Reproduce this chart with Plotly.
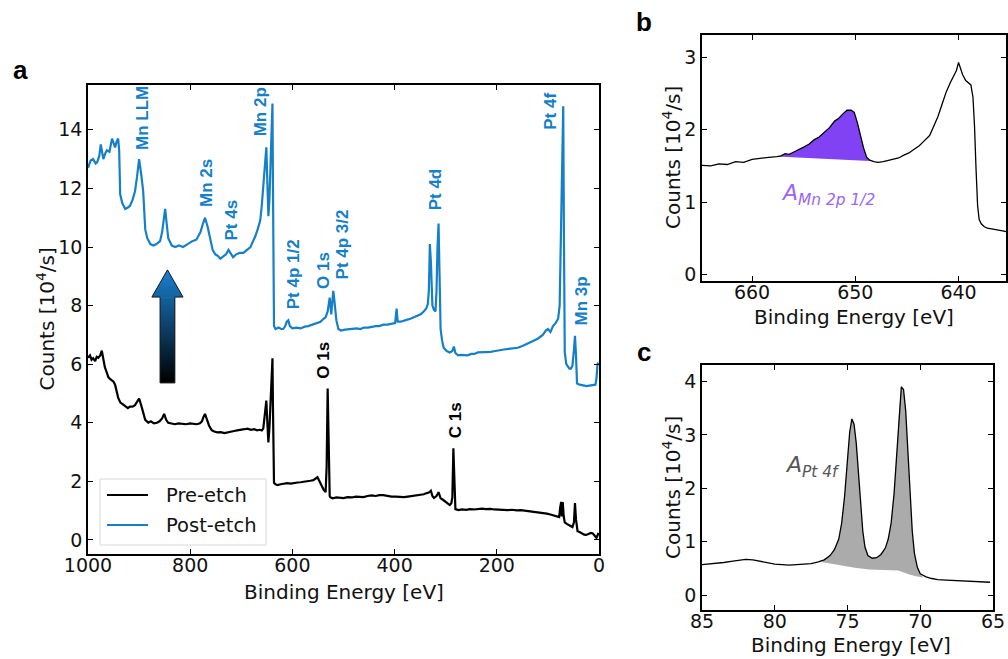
import plotly.graph_objects as go

W, H = 1008, 659
BLUE = "#1580c8"

# ---------------- Panel a : survey spectra ----------------
post_x = [1000, 995, 990, 985, 982, 978, 975, 972, 970, 966, 963, 958, 953, 950, 947, 944, 941, 939, 937, 933,
          927, 922, 918, 913, 908, 904, 900, 896, 892, 888, 884, 878, 872, 866, 859, 855, 852, 849, 846, 843,
          836, 829, 822, 814, 805, 796, 788, 780, 775, 771, 766, 761, 756, 751, 746, 741, 735, 730, 725, 720,
          716, 710, 703, 696, 689, 682, 677, 673, 668, 663, 660, 657, 654, 651, 649, 647, 645, 642, 639, 638,
          637, 636, 633, 627, 622, 618, 614, 611, 608, 605, 600, 592, 584, 576, 569, 560, 551, 545, 539, 535,
          531, 529, 527, 525, 524, 522, 520, 518, 514, 510, 505, 497, 489, 481, 474, 467, 460, 452, 444, 437,
          430, 422, 414, 406, 399, 396, 394, 388, 381, 375, 369, 362, 355, 349, 343, 338, 335, 333, 331, 329,
          326, 323, 320, 318, 316, 314, 312, 310, 307, 304, 298, 292, 287, 284, 281, 276, 270, 263, 257, 250,
          244, 237, 230, 221, 212, 203, 195, 186, 177, 168, 159, 150, 139, 130, 120, 110, 104, 100, 95, 90,
          85, 80, 77, 76, 75, 73, 71.5, 70, 68.5, 67, 64, 61, 58, 55, 52, 49, 47, 45, 43, 38,
          33, 29, 24, 19, 14, 10, 7, 5, 3, 1]
post_y = [12.7, 12.95, 13.0, 12.85, 12.9, 13.1, 13.5, 13.1, 13.0, 13.2, 13.3, 13.25, 13.7, 13.55, 13.4, 13.6, 13.7, 13.3, 11.8, 11.5,
          11.3, 11.35, 11.4, 11.6, 11.9, 12.4, 13.0, 12.5, 11.9, 10.6, 10.3, 10.1, 10.05, 10.1, 10.2, 10.5, 11.0, 11.3, 10.8, 10.3,
          10.05, 10.0, 10.05, 10.0, 10.1, 10.2, 10.25, 10.5, 10.8, 11.0, 10.7, 10.3, 9.9, 9.75, 9.7, 9.6, 9.7, 9.75, 9.9, 9.75,
          9.65, 9.75, 9.8, 9.8, 9.9, 10.0, 10.2, 10.35, 10.6, 10.9, 11.4, 12.0, 12.8, 13.4, 12.2, 11.05, 11.6, 13.5, 14.9, 12.0,
          9.0, 7.3, 7.2, 7.25, 7.2, 7.2, 7.3, 7.45, 7.5, 7.3, 7.22, 7.25, 7.22, 7.28, 7.3, 7.35, 7.4, 7.45, 7.55, 7.6,
          7.8, 8.1, 8.27, 7.9, 7.7, 8.1, 8.5, 8.2, 7.5, 7.2, 7.15, 7.18, 7.2, 7.2, 7.22, 7.2, 7.25, 7.25, 7.28, 7.3,
          7.3, 7.35, 7.35, 7.38, 7.4, 7.9, 7.45, 7.45, 7.5, 7.52, 7.55, 7.6, 7.65, 7.7, 7.8, 7.9, 8.05, 8.5, 10.1, 9.5,
          8.0, 7.85, 7.8, 8.5, 10.0, 10.8, 9.0, 7.2, 6.8, 6.56, 6.45, 6.4, 6.45, 6.6, 6.38, 6.3, 6.32, 6.3, 6.3, 6.35,
          6.35, 6.4, 6.4, 6.4, 6.42, 6.45, 6.48, 6.5, 6.52, 6.55, 6.56, 6.62, 6.7, 6.78, 6.87, 7.0, 7.15, 7.2, 7.1, 7.3,
          7.4, 7.55, 8.0, 8.9, 11.0, 12.9, 13.0, 14.8, 10.0, 6.4, 6.0, 5.9, 5.85, 5.85, 5.95, 6.5, 6.97, 6.3, 5.34, 5.3,
          5.28, 5.27, 5.25, 5.27, 5.28, 5.27, 5.3, 5.5, 6.0, 6.05]

pre_x = [1000, 996, 993, 990, 986, 983, 980, 976, 973, 970, 967, 963, 960, 957, 953, 950, 947, 944, 941, 937,
         933, 929, 925, 922, 918, 913, 908, 904, 900, 896, 892, 888, 882, 877, 871, 865, 860, 855, 851, 847,
         843, 837, 830, 823, 815, 808, 800, 794, 787, 781, 777, 774, 771, 767, 763, 758, 753, 747, 740, 733,
         727, 720, 714, 708, 701, 694, 688, 681, 675, 669, 664, 660, 657, 654, 651, 649, 647, 645, 642, 639,
         638, 637, 636, 633, 629, 623, 617, 610, 603, 597, 590, 584, 577, 571, 565, 559, 555, 551, 547, 543,
         539, 535, 533, 531, 529, 527, 526, 521, 514, 507, 500, 492, 484, 476, 468, 461, 453, 445, 437, 430,
         422, 414, 406, 398, 390, 382, 374, 366, 358, 350, 343, 337, 333, 329, 326, 323, 318, 314, 310, 306,
         302, 297, 292, 289, 287, 285, 283, 281, 275, 268, 260, 253, 245, 237, 229, 221, 213, 205, 197, 188,
         179, 170, 161, 153, 144, 135, 127, 118, 110, 102, 95, 88, 83, 78, 76, 74, 73, 71, 69, 67,
         63, 59, 55, 52, 49, 47, 45, 42, 38, 33, 29, 25, 21, 16, 12, 8, 5, 3, 1]
pre_y = [6.22, 6.3, 6.15, 6.2, 6.1, 6.25, 6.22, 6.3, 6.46, 6.1, 5.9, 5.7, 5.55, 5.5, 5.45, 5.4, 5.3, 5.05, 4.86, 4.7,
         4.65, 4.6, 4.55, 4.5, 4.55, 4.55, 4.6, 4.7, 4.83, 4.6, 4.3, 4.1, 4.0, 4.05, 3.98, 4.0, 4.05, 4.15, 4.3, 4.1,
         4.0, 3.97, 3.95, 3.98, 3.97, 3.95, 3.98, 3.97, 3.95, 3.98, 4.05, 4.2, 4.3, 4.1, 3.9, 3.75, 3.7, 3.67, 3.68, 3.65,
         3.68, 3.7, 3.72, 3.74, 3.75, 3.78, 3.8, 3.76, 3.78, 3.74, 3.76, 3.74, 3.8, 4.2, 4.76, 4.0, 3.33, 3.8, 5.0, 6.2,
         4.5, 2.5, 1.95, 1.9, 1.87, 1.9, 1.92, 1.94, 1.92, 1.95, 1.96, 1.97, 1.98, 2.0, 2.02, 2.04, 2.1, 2.14, 2.0, 1.85,
         1.72, 1.63, 2.5, 5.17, 2.5, 1.5, 1.46, 1.42, 1.45, 1.43, 1.43, 1.46, 1.45, 1.48, 1.47, 1.46, 1.5, 1.52, 1.5, 1.53,
         1.53, 1.5, 1.48, 1.48, 1.47, 1.46, 1.48, 1.5, 1.52, 1.55, 1.56, 1.6, 1.62, 1.68, 1.5, 1.43, 1.5, 1.63, 1.42, 1.38,
         1.33, 1.25, 1.19, 1.25, 1.45, 3.13, 1.5, 1.05, 1.02, 1.04, 1.03, 1.05, 1.04, 1.06, 1.07, 1.05, 1.06, 1.04, 1.03, 1.02,
         1.02, 1.03, 1.01, 1.02, 1.0, 0.98, 0.97, 0.95, 0.93, 0.9, 0.87, 0.84, 0.8, 0.78, 1.1, 1.3, 0.8, 1.29, 0.8, 0.6,
         0.55, 0.5, 0.45, 0.44, 0.6, 1.26, 0.7, 0.3, 0.27, 0.22, 0.18, 0.17, 0.2, 0.24, 0.22, 0.12, 0.07, 0.15, 0.24]

series_names = ["Pre-etch", "Post-etch"]

# peak labels: (text, energy, label-bottom counts)
post_labels = ["Mn LLM", "Mn 2s", "Pt 4s", "Mn 2p", "Pt 4p 1/2", "O 1s", "Pt 4p 3/2", "Pt 4d", "Pt 4f", "Mn 3p"]
post_label_x = [892, 767, 720, 663, 598, 539, 502, 320, 94, 35]
post_label_y = [13.25, 11.3, 10.14, 13.7, 7.82, 8.5, 8.84, 11.2, 13.95, 7.24]
pre_labels = ["O 1s", "C 1s"]
pre_label_x = [539, 282]
pre_label_y = [5.44, 3.4]

# ---------------- Panel b : Mn 2p ----------------
b_x = [664.9, 664.0, 663.2, 662.4, 661.6, 660.8, 660.0, 659.2, 658.4, 657.6,
       657.2, 656.8, 656.4, 656.0, 655.5, 655.0, 654.5, 654.0, 653.5, 653.0,
       652.5, 652.0, 651.6, 651.2, 650.8, 650.4, 650.1, 649.8, 649.5, 649.2,
       648.9, 648.6, 648.2, 647.8, 647.3, 646.8, 646.3, 645.8, 645.3, 644.8,
       644.3, 643.8, 643.3, 642.8, 642.4, 642.0, 641.6, 641.2, 640.8, 640.5,
       640.2, 640.0, 639.8, 639.6, 639.3, 639.0, 638.8, 638.6, 638.45, 638.3,
       638.15, 638.0, 637.8, 637.5, 637.2, 636.8, 636.4, 636.0, 635.6, 635.3]
b_y = [1.51, 1.50, 1.53, 1.52, 1.56, 1.55, 1.59, 1.61, 1.62, 1.63,
       1.64, 1.67, 1.66, 1.69, 1.72, 1.76, 1.80, 1.86, 1.90, 1.97,
       2.03, 2.12, 2.16, 2.22, 2.27, 2.27, 2.24, 2.10, 1.92, 1.75,
       1.62, 1.58, 1.56, 1.55, 1.56, 1.58, 1.60, 1.61, 1.65, 1.68,
       1.73, 1.78, 1.85, 1.92, 2.05, 2.18, 2.35, 2.52, 2.65, 2.74,
       2.82, 2.93, 2.85, 2.76, 2.68, 2.64, 2.62, 2.45, 2.05, 1.45,
       0.95, 0.76, 0.70, 0.66, 0.64, 0.63, 0.62, 0.62, 0.60, 0.59]
b_base_x = [657.6, 648.6]
b_base_y = [1.63, 1.57]

# ---------------- Panel c : Pt 4f ----------------
c_x = [85.0, 84.5, 84.0, 83.5, 83.0, 82.5, 82.0, 81.5, 81.0, 80.5,
       80.0, 79.5, 79.0, 78.5, 78.0, 77.5, 77.0, 76.6, 76.2, 75.9,
       75.6, 75.4, 75.2, 75.0, 74.85, 74.7, 74.55, 74.4, 74.25, 74.1,
       73.95, 73.8, 73.6, 73.3, 73.0, 72.7, 72.4, 72.2, 72.0, 71.8,
       71.6, 71.45, 71.3, 71.15, 71.0, 70.85, 70.7, 70.55, 70.4, 70.2,
       70.0, 69.6, 69.2, 68.8, 68.2, 67.6, 67.0, 66.4, 65.8, 65.2]
c_y = [0.57, 0.58, 0.60, 0.61, 0.63, 0.65, 0.67, 0.66, 0.63, 0.60,
       0.58, 0.57, 0.56, 0.57, 0.58, 0.59, 0.62, 0.66, 0.74, 0.85,
       1.05, 1.35, 1.85, 2.55, 3.05, 3.30, 3.20, 2.85, 2.30, 1.70,
       1.20, 0.90, 0.74, 0.69, 0.70, 0.76, 0.88, 1.05, 1.35, 1.90,
       2.75, 3.45, 3.90, 3.85, 3.45, 2.70, 1.85, 1.20, 0.78, 0.52,
       0.40, 0.34, 0.31, 0.29, 0.28, 0.27, 0.26, 0.25, 0.24, 0.24]
c_base_x = [76.8, 75.5, 74.5, 73.5, 72.5, 71.5, 70.8, 70.3, 69.8]
c_base_y = [0.62, 0.56, 0.51, 0.48, 0.47, 0.46, 0.39, 0.35, 0.33]

fig = go.Figure()

# panel a traces
fig.add_trace(go.Scatter(x=pre_x, y=pre_y, mode="lines", name=series_names[0], showlegend=False,
                         line=dict(color="black", width=2.2), xaxis="x", yaxis="y"))
fig.add_trace(go.Scatter(x=post_x, y=post_y, mode="lines", name=series_names[1], showlegend=False,
                         line=dict(color=BLUE, width=2.2), xaxis="x", yaxis="y"))

# panel b fill + line
bx_in = [x for x in b_x if b_base_x[1] <= x <= b_base_x[0]]
by_in = [y for x, y in zip(b_x, b_y) if b_base_x[1] <= x <= b_base_x[0]]
fig.add_trace(go.Scatter(x=[b_base_x[0]] + bx_in + [b_base_x[1]],
                         y=[b_base_y[0]] + by_in + [b_base_y[1]],
                         fill="toself", fillcolor="#8042f2", mode="none",
                         showlegend=False, xaxis="x2", yaxis="y2"))
fig.add_trace(go.Scatter(x=b_x, y=b_y, mode="lines", line=dict(color="black", width=1.3),
                         showlegend=False, xaxis="x2", yaxis="y2"))

# panel c fill + line
cx_in = [x for x in c_x if c_base_x[-1] <= x <= c_base_x[0]]
cy_in = [y for x, y in zip(c_x, c_y) if c_base_x[-1] <= x <= c_base_x[0]]
fig.add_trace(go.Scatter(x=cx_in + c_base_x[::-1], y=cy_in + c_base_y[::-1],
                         fill="toself", fillcolor="#ababab", mode="none",
                         showlegend=False, xaxis="x3", yaxis="y3"))
fig.add_trace(go.Scatter(x=c_x, y=c_y, mode="lines", line=dict(color="black", width=1.3),
                         showlegend=False, xaxis="x3", yaxis="y3"))

FONT = "DejaVu Sans"
axis_common = dict(showline=True, linecolor="black", linewidth=1.5, mirror="ticks",
                   ticks="inside", ticklen=5, tickwidth=1.2, tickcolor="black",
                   showgrid=False, zeroline=False, automargin=False,
                   tickfont=dict(family=FONT, size=19, color="#111"))
xax = dict(axis_common, ticklabelstandoff=-7)
yax = dict(axis_common, ticklabelstandoff=0)

def px_x(p):
    return p / W

def px_y(p):
    return (H - p) / H

fig.update_layout(
    template="none",
    width=W, height=H, margin=dict(l=0, r=0, t=0, b=0, pad=0), autosize=False,
    paper_bgcolor="white", plot_bgcolor="white", showlegend=False,
    font=dict(family=FONT, size=19, color="#111"),
    xaxis=dict(domain=[px_x(88), px_x(599)], range=[1000, 0],
               tickvals=[1000, 800, 600, 400, 200, 0], anchor="y", **xax),
    yaxis=dict(domain=[px_y(554), px_y(85)], range=[-0.48, 15.53],
               tickvals=[0, 2, 4, 6, 8, 10, 12, 14], anchor="x", **yax),
    xaxis2=dict(domain=[px_x(702), px_x(1006)], range=[664.85, 635.4],
                tickvals=[660, 650, 640], anchor="y2", **xax),
    yaxis2=dict(domain=[px_y(281), px_y(35)], range=[-0.09, 3.31],
                tickvals=[0, 1, 2, 3], anchor="x2", **yax),
    xaxis3=dict(domain=[px_x(702), px_x(993)], range=[85, 65],
                tickvals=[85, 80, 75, 70, 65], anchor="y3", **xax),
    yaxis3=dict(domain=[px_y(610), px_y(365)], range=[-0.28, 4.31],
                tickvals=[0, 1, 2, 3, 4], anchor="x3", **yax),
)

def pann(text, x, y, size=20, angle=0, color="#111", family=FONT):
    return dict(text=text, x=px_x(x), y=px_y(y), xref="paper", yref="paper", showarrow=False,
                xanchor="center", yanchor="middle", textangle=angle,
                font=dict(size=size, color=color, family=family))

ann = []
# axis titles
ann.append(pann("Binding Energy [eV]", 343.5, 592))
ann.append(pann("Counts [10<sup>4</sup>/s]", 45, 319.5, angle=-90))
ann.append(pann("Binding Energy [eV]", 854, 317))
ann.append(pann("Counts [10<sup>4</sup>/s]", 672, 158, angle=-90))
ann.append(pann("Binding Energy [eV]", 851, 645))
ann.append(pann("Counts [10<sup>4</sup>/s]", 672, 488, angle=-90))
# panel letters
for letter, lx, ly in [("a", 20, 70), ("b", 644, 22), ("c", 644, 352)]:
    ann.append(pann("<b>%s</b>" % letter, lx, ly, size=26, color="black", family="Liberation Sans"))
# peak labels
for t, x, y in zip(post_labels, post_label_x, post_label_y):
    ann.append(dict(text="<b>%s</b>" % t, x=x, y=y, xref="x", yref="y", showarrow=False,
                    textangle=-90, xanchor="center", yanchor="bottom",
                    font=dict(family="Liberation Sans", size=17, color=BLUE)))
for t, x, y in zip(pre_labels, pre_label_x, pre_label_y):
    ann.append(dict(text="<b>%s</b>" % t, x=x, y=y, xref="x", yref="y", showarrow=False,
                    textangle=-90, xanchor="center", yanchor="bottom",
                    font=dict(family="Liberation Sans", size=17, color="black")))
# area labels
ann.append(dict(text="<i>A<sub>Mn 2p 1/2</sub></i>", x=652.6, y=1.1, xref="x2", yref="y2",
                showarrow=False, xanchor="center", yanchor="middle",
                font=dict(size=22, color="#9a66f8")))
ann.append(dict(text="<i>A<sub>Pt 4f</sub></i>", x=77.4, y=2.4, xref="x3", yref="y3",
                showarrow=False, xanchor="center", yanchor="middle",
                font=dict(size=22, color="#555555")))

shapes = []
# manual legend (panel a)
shapes.append(dict(type="rect", xref="paper", yref="paper", x0=px_x(100), x1=px_x(266),
                   y0=px_y(545), y1=px_y(479), fillcolor="white",
                   line=dict(color="#d8d8d8", width=1), layer="above"))
for name, colr, ly in [(series_names[0], "black", 495), (series_names[1], BLUE, 525)]:
    shapes.append(dict(type="line", xref="paper", yref="paper", x0=px_x(107), x1=px_x(148),
                       y0=px_y(ly), y1=px_y(ly), line=dict(color=colr, width=2.2), layer="above"))
    ann.append(dict(text=name, x=px_x(164), y=px_y(ly), xref="paper", yref="paper", showarrow=False,
                    xanchor="left", yanchor="middle", font=dict(size=19.5, color="#111", family=FONT)))

# gradient arrow (panel a, data coordinates)
cx, body_hw, head_hw = 844.5, 14.5, 30.5
y_bot, y_base, y_tip = 5.36, 8.29, 9.22
top_rgb, bot_rgb = (26, 130, 210), (0, 0, 0)

def col(yv):
    t = (yv - y_bot) / (y_tip - y_bot)
    t = max(0.0, min(1.0, t))
    return "rgb(%d,%d,%d)" % tuple(int(b + (a - b) * t) for a, b in zip(top_rgb, bot_rgb))

nb = 40
hb = (y_base - y_bot) / nb
for i in range(nb):
    y0 = y_bot + hb * i
    y1 = min(y_base, y0 + hb * 1.8)
    c = col(y0 + hb / 2)
    shapes.append(dict(type="rect", xref="x", yref="y", x0=cx + body_hw, x1=cx - body_hw, y0=y0, y1=y1,
                       fillcolor=c, line=dict(width=0), layer="above"))
nh = 14
hh = (y_tip - y_base) / nh
for i in range(nh):
    y0 = y_base + hh * i
    y1 = min(y_tip, y0 + hh * 1.8)
    h0 = head_hw * (y_tip - y0) / (y_tip - y_base)
    h1 = head_hw * (y_tip - y1) / (y_tip - y_base)
    c = col(y0 + hh / 2)
    path = "M %f,%f L %f,%f L %f,%f L %f,%f Z" % (cx - h0, y0, cx + h0, y0, cx + h1, y1, cx - h1, y1)
    shapes.append(dict(type="path", xref="x", yref="y", path=path, fillcolor=c,
                       line=dict(width=0), layer="above"))
outline = "M %f,%f L %f,%f L %f,%f L %f,%f L %f,%f L %f,%f L %f,%f Z" % (
    cx - body_hw, y_bot, cx + body_hw, y_bot, cx + body_hw, y_base, cx + head_hw, y_base,
    cx, y_tip, cx - head_hw, y_base, cx - body_hw, y_base)
shapes.append(dict(type="path", xref="x", yref="y", path=outline, line=dict(color="#1a1a1a", width=1),
                   layer="above"))

fig.update_layout(annotations=ann, shapes=shapes)
fig.write_html("out.html", config={"displayModeBar": False},
               post_script="document.body.style.margin='0px';document.body.style.overflow='hidden';")
